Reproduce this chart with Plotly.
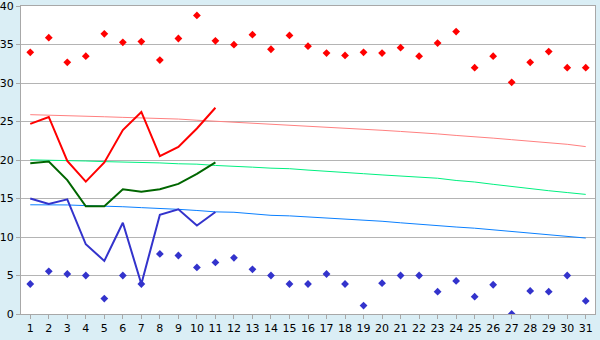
import plotly.graph_objects as go

days = list(range(1, 32))

# Record-style scatter points
high_points = [34.0, 35.9, 32.7, 33.5, 36.4, 35.3, 35.4, 33.0, 35.8, 38.8,
               35.5, 35.0, 36.3, 34.4, 36.2, 34.8, 33.9, 33.6, 34.0, 33.9,
               34.6, 33.5, 35.2, 36.7, 32.0, 33.5, 30.1, 32.7, 34.1, 32.0, 32.0]
low_points = [3.9, 5.55, 5.2, 5.0, 2.0, 5.0, 3.9, 7.8, 7.6, 6.05,
              6.7, 7.3, 5.8, 5.0, 3.9, 3.9, 5.2, 3.9, 1.1, 4.0,
              5.0, 5.0, 2.9, 4.3, 2.25, 3.8, 0.0, 3.0, 2.9, 5.0, 1.7]

# Observed lines (days 1-11)
obs_days = list(range(1, 12))
obs_max = [24.7, 25.6, 19.9, 17.2, 19.7, 23.9, 26.25, 20.5, 21.7, 24.1, 26.8]
obs_mean = [19.6, 19.8, 17.4, 14.0, 14.0, 16.2, 15.9, 16.2, 16.9, 18.2, 19.7]
obs_min = [15.0, 14.3, 14.9, 9.06, 6.9, 11.85, 3.9, 12.9, 13.6, 11.5, 13.25]

# Normal curves
norm_max = [25.9, 25.85, 25.78, 25.7, 25.63, 25.55, 25.5, 25.42, 25.33, 25.18,
            25.05, 24.97, 24.87, 24.74, 24.6, 24.48, 24.35, 24.2, 24.0, 23.87,
            23.72, 23.58, 23.4, 23.2, 23.05, 22.85, 22.65, 22.47, 22.25, 22.05, 21.75]
norm_mean = [20.03, 20.0, 19.92, 19.88, 19.8, 19.77, 19.7, 19.63, 19.52, 19.47,
             19.3, 19.22, 19.08, 18.95, 18.88, 18.7, 18.57, 18.43, 18.23, 18.07,
             17.92, 17.8, 17.64, 17.35, 17.15, 16.85, 16.55, 16.27, 16.02, 15.78, 15.54]
norm_min = [14.19, 14.19, 14.17, 14.08, 14.05, 13.94, 13.82, 13.74, 13.6, 13.45,
            13.27, 13.22, 13.05, 12.82, 12.75, 12.62, 12.45, 12.3, 12.2, 12.05,
            11.85, 11.65, 11.5, 11.3, 11.15, 10.95, 10.75, 10.55, 10.35, 10.15, 9.87]

y_ticks = [0, 5, 10, 15, 20, 25, 30, 35, 40]

fig = go.Figure()

fig.add_trace(go.Scatter(x=days, y=norm_max, mode="lines",
                         line=dict(color="#ff8080", width=1)))
fig.add_trace(go.Scatter(x=days, y=norm_mean, mode="lines",
                         line=dict(color="#00f080", width=1)))
fig.add_trace(go.Scatter(x=days, y=norm_min, mode="lines",
                         line=dict(color="#0a80ff", width=1)))

fig.add_trace(go.Scatter(x=obs_days, y=obs_max, mode="lines",
                         line=dict(color="#ff0000", width=2)))
fig.add_trace(go.Scatter(x=obs_days, y=obs_mean, mode="lines",
                         line=dict(color="#006600", width=2)))
fig.add_trace(go.Scatter(x=obs_days, y=obs_min, mode="lines",
                         line=dict(color="#3333cc", width=2)))

fig.add_trace(go.Scatter(x=days, y=high_points, mode="markers",
                         marker=dict(symbol="diamond", size=6, color="#ff0000")))
fig.add_trace(go.Scatter(x=days, y=low_points, mode="markers",
                         marker=dict(symbol="diamond", size=6, color="#3333cc")))

fig.update_layout(
    width=600, height=340,
    margin=dict(l=21, r=5, t=5, b=20),
    paper_bgcolor="#daeef5",
    plot_bgcolor="#ffffff",
    showlegend=False,
    font=dict(family="DejaVu Sans", size=11, color="#000000"),
)
fig.update_xaxes(
    range=[0.5, 31.5], tickmode="array", tickvals=days,
    ticktext=[str(d) for d in days],
    showgrid=False, zeroline=False,
    showline=True, linecolor="#a8a8a8", linewidth=1, mirror=True,
    ticks="outside", ticklen=4, tickcolor="#a8a8a8",
)
fig.update_yaxes(
    range=[0, 40.02], tickmode="array", tickvals=y_ticks,
    showgrid=True, gridcolor="#b4b4b4", gridwidth=1, zeroline=False,
    showline=True, linecolor="#a8a8a8", linewidth=1, mirror=True,
    ticks="outside", ticklen=4, tickcolor="#a8a8a8",
    automargin=False,
)

fig.write_html("out.html")
